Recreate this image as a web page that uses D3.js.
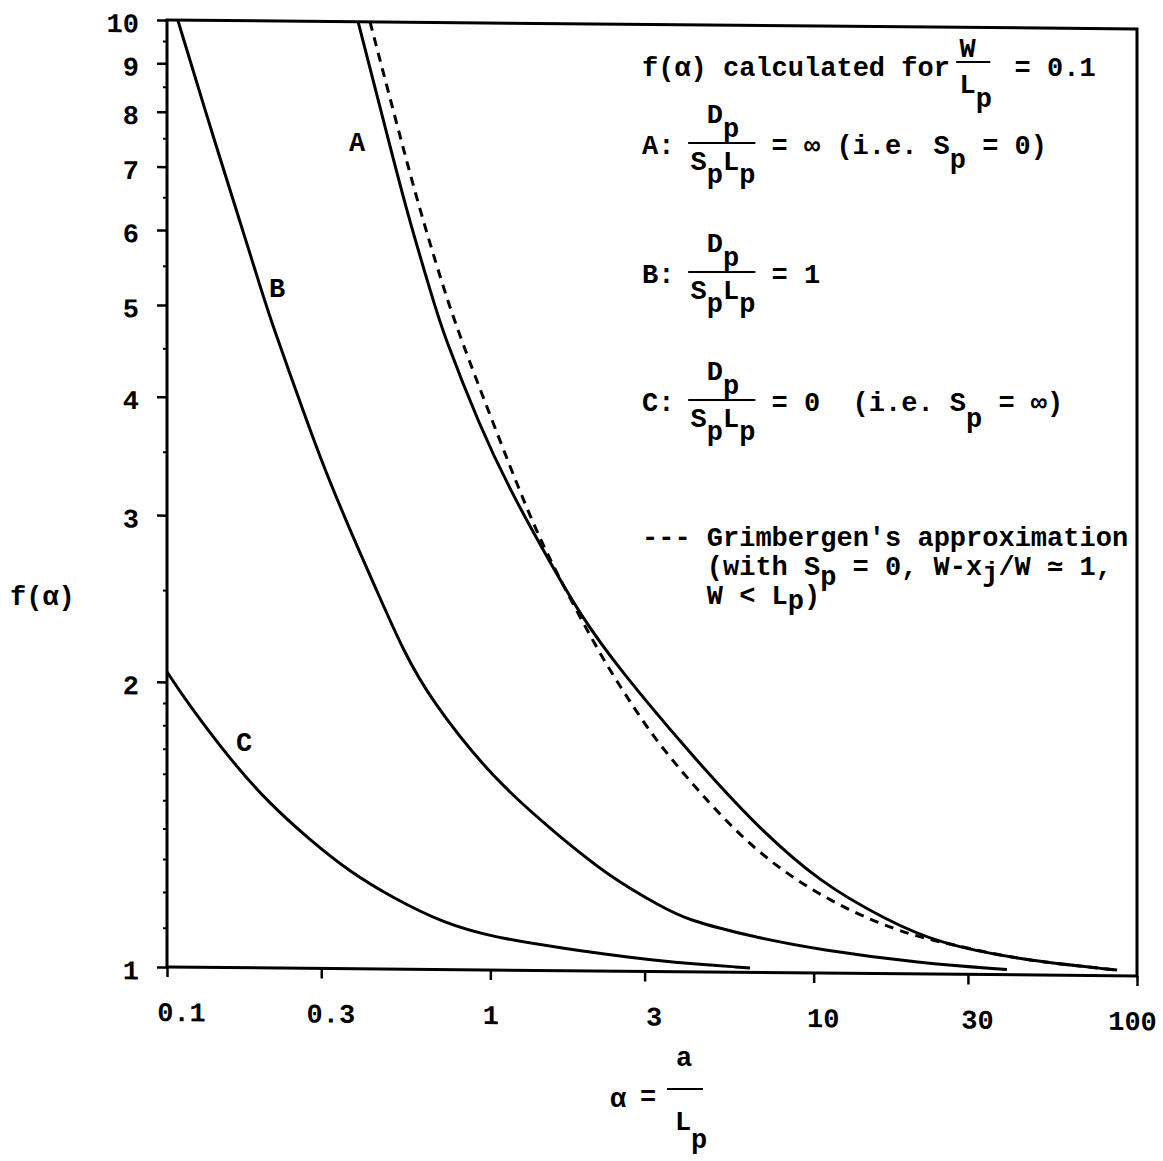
<!DOCTYPE html>
<html>
<head>
<meta charset="utf-8">
<script src="https://cdn.jsdelivr.net/npm/d3@7"></script>
<style>
  body { margin: 0; background: #fff; }
  text { font-family: "Liberation Mono", "DejaVu Sans Mono", monospace; font-size: 27px; font-weight: bold; fill: #000; white-space: pre; }
</style>
</head>
<body>
<div id="chart"></div>
<script>
// values: alpha = a/Lp on x, f(alpha) on y
var curveAx = [0.39, 0.478, 0.553, 0.665, 0.714, 0.929, 1.151, 1.455, 1.895, 2.518, 4.06, 6.5, 10.47, 16.87, 24.08, 43.5, 86.8];
var curveAy = [10, 7.635, 6.289, 5.093, 4.702, 3.744, 3.215, 2.78, 2.375, 2.08, 1.715, 1.438, 1.245, 1.139, 1.079, 1.037, 1.014];

var curveBx = [0.108, 0.143, 0.165, 0.197, 0.213, 0.258, 0.297, 0.36, 0.456, 0.537, 0.651, 1.02, 1.643, 2.346, 3.35, 4.06, 6.5, 10.47, 21.3, 39.6];
var curveBy = [10, 7.3, 6.265, 5.16, 4.753, 3.96, 3.467, 2.955, 2.464, 2.173, 1.93, 1.59, 1.384, 1.257, 1.173, 1.134, 1.09, 1.058, 1.027, 1.013];

var curveCx = [0.1, 0.114, 0.16, 0.208, 0.277, 0.368, 0.5, 0.714, 1.02, 1.643, 3.35, 6.36];
var curveCy = [2.05, 1.915, 1.644, 1.49, 1.366, 1.265, 1.189, 1.12, 1.083, 1.057, 1.024, 1.011];

// Grimbergen's approximation (dashed)
var grimX = [0.4245, 0.507, 0.593, 0.714, 0.806, 1.02, 1.299, 1.563, 2.232, 2.647, 3.186, 4.36, 6.5, 10.47, 18.1, 27, 43.5, 86.8];
var grimY = [10, 7.94, 6.492, 5.258, 4.658, 3.781, 3.062, 2.668, 2.13, 1.949, 1.769, 1.556, 1.347, 1.203, 1.107, 1.074, 1.037, 1.014];

var xTicks = [0.1, 0.3, 1, 3, 10, 30, 100];
var xTickLabels = ["0.1", "0.3", "1", "3", "10", "30", "100"];
var yTicks = [1, 2, 3, 4, 5, 6, 7, 8, 9, 10];
var yMinorTicks = [1.1, 1.2, 1.3, 1.4, 1.5, 1.6, 1.7, 1.8, 1.9, 2.5, 3.5, 4.5, 5.5, 6.5, 7.5, 8.5, 9.5];

var svg = d3.select("#chart").append("svg")
    .attr("width", 1163)
    .attr("height", 1161);

// the scan is slightly skewed, right side sits ~9px lower
var g = svg.append("g").attr("transform", "translate(167,0) skewY(0.53) translate(-167,0)");

var x = d3.scaleLog().domain([0.1, 100]).range([167, 1137]);
var y = d3.scaleLog().domain([1, 10]).range([967, 20]);

function pts(xs, ys) {
    return xs.map(function (v, i) { return [v, ys[i]]; });
}

// axes
var xAxis = g.append("g")
    .attr("transform", "translate(0," + y(1) + ")")
    .call(d3.axisBottom(x).tickValues(xTicks).tickSize(10).tickPadding(25)
        .tickFormat(function (d, i) { return xTickLabels[i]; }));
xAxis.select(".domain").remove();
xAxis.selectAll("line").attr("stroke-width", 2.5);
// typed labels sit a little right of their ticks, the last one is pulled in
xAxis.selectAll("text").attr("dx", function (d) {
    if (d === 100) return -5;
    if (d === 1) return 0;
    return d === 0.1 ? 14 : 9;
});

var yAxis = g.append("g")
    .attr("transform", "translate(" + x(0.1) + ",0)")
    .call(d3.axisLeft(y).tickValues(yTicks).tickSize(10).tickPadding(18)
        .tickFormat(d3.format("d")));
yAxis.select(".domain").remove();
yAxis.selectAll("line").attr("stroke-width", 2.5);
yAxis.selectAll("text").attr("dy", "0.45em");

var yMinor = g.append("g")
    .attr("transform", "translate(" + x(0.1) + ",0)")
    .call(d3.axisLeft(y).tickValues(yMinorTicks).tickSize(4).tickFormat(""));
yMinor.select(".domain").remove();
yMinor.selectAll("line").attr("stroke-width", 2);

// frame
g.append("rect")
    .attr("x", x(0.1)).attr("y", y(10))
    .attr("width", x(100) - x(0.1)).attr("height", y(1) - y(10))
    .attr("fill", "none").attr("stroke", "#000").attr("stroke-width", 3);

var line = d3.line()
    .x(function (d) { return x(d[0]); })
    .y(function (d) { return y(d[1]); })
    .curve(d3.curveBasis);

[pts(curveAx, curveAy), pts(curveBx, curveBy), pts(curveCx, curveCy)].forEach(function (p) {
    g.append("path").attr("d", line(p))
        .attr("fill", "none").attr("stroke", "#000").attr("stroke-width", 3);
});

g.append("path").attr("d", line(pts(grimX, grimY)))
    .attr("fill", "none").attr("stroke", "#000").attr("stroke-width", 3)
    .attr("stroke-dasharray", "9,7");

// curve labels
svg.append("text").attr("x", 357).attr("y", 151).attr("text-anchor", "middle").text("A");
svg.append("text").attr("x", 277).attr("y", 297).attr("text-anchor", "middle").text("B");
svg.append("text").attr("x", 244).attr("y", 751).attr("text-anchor", "middle").text("C");

// typewriter style legend on a character grid
var X0 = 642, CW = 16.2;
function type(str, col, yb) {
    svg.append("text").attr("x", X0 + col * CW).attr("y", yb).text(str);
}
function rule(c0, c1, yy) {
    svg.append("line")
        .attr("x1", X0 + c0 * CW).attr("x2", X0 + c1 * CW)
        .attr("y1", yy).attr("y2", yy)
        .attr("stroke", "#000").attr("stroke-width", 2.2);
}

type("f(\u03b1) calculated for", 0, 76);
type("W", 19.6, 57);
rule(19.4, 21.5, 62);
type("L", 19.6, 93);
type("p", 20.6, 107);
type("= 0.1", 23, 76);

function ratio(label, yc) {
    type(label, 0, yc + 8);
    type("D", 4, yc - 23);
    type("p", 5, yc - 9);
    rule(2.85, 7, yc - 3);
    type("S", 3, yc + 24);
    type("L", 5, yc + 24);
    type("p", 4, yc + 37);
    type("p", 6, yc + 37);
}

ratio("A:", 146);
type("= \u221e (i.e. S", 8, 154);
type("p", 19, 168);
type("= 0)", 21, 154);

ratio("B:", 275);
type("= 1", 8, 283);

ratio("C:", 403);
type("= 0  (i.e. S", 8, 411);
type("p", 20, 427);
type("= \u221e)", 22, 411);

type("--- Grimbergen's approximation", 0, 546);
type("(with S", 4, 575);
type("p", 11, 585);
type("= 0, W-x", 13, 575);
type("j", 21, 581);
type("/W \u2243 1,", 22, 575);
type("W < L", 4, 604);
type("p", 9, 609);
type(")", 10, 604);

// axis titles
svg.append("text").attr("x", 10).attr("y", 605).text("f(\u03b1)");

svg.append("text").attr("x", 618).attr("y", 1107).attr("text-anchor", "middle").text("\u03b1");
svg.append("text").attr("x", 648).attr("y", 1105).attr("text-anchor", "middle").text("=");
svg.append("text").attr("x", 684).attr("y", 1066).attr("text-anchor", "middle").text("a");
svg.append("line").attr("x1", 667).attr("x2", 703).attr("y1", 1089).attr("y2", 1089)
    .attr("stroke", "#000").attr("stroke-width", 2);
svg.append("text").attr("x", 683).attr("y", 1130).attr("text-anchor", "middle").text("L");
svg.append("text").attr("x", 699).attr("y", 1148).attr("text-anchor", "middle").text("p");
</script>
</body>
</html>
